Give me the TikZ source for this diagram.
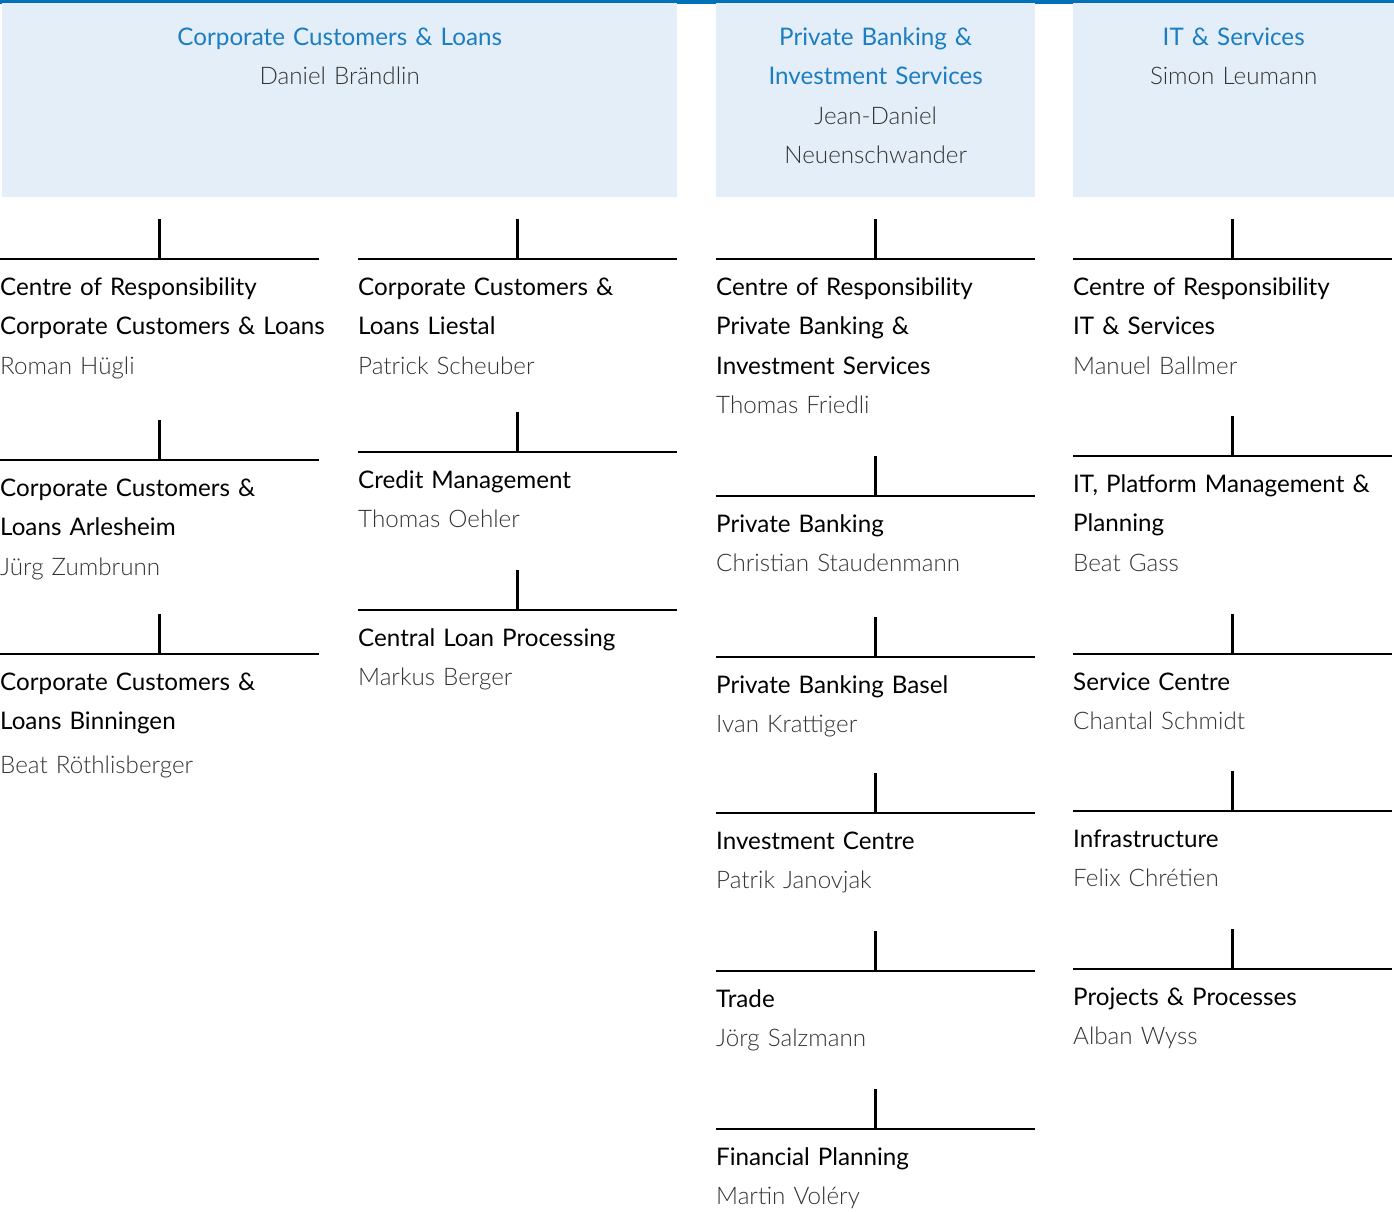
\documentclass[tikz,border=0pt]{standalone}
\usepackage{fontspec}
\setmainfont{Lato}
\newfontfamily\lightfont{Lato Light}
\definecolor{topblue}{HTML}{0070B8}
\definecolor{boxblue}{HTML}{E4EEF8}
\definecolor{headblue}{HTML}{1B7DC2}
\definecolor{namegray}{HTML}{333333}
\newcommand{\who}[1]{{\lightfont\color{namegray}#1}}
\begin{document}
\begin{tikzpicture}[
			x=1pt, y=-1pt,
			headbox/.style={fill=boxblue, inner sep=0pt, anchor=north west},
			headtext/.style={text width=300pt, align=center, font=\fontsize{24.2}{39.5}\selectfont, text=headblue, inner sep=0pt, anchor=base},
			unit/.style={anchor=base west, text width=360pt, align=left, inner sep=0pt, font=\fontsize{24.2}{39.5}\selectfont},
			bar/.style={line width=2.6pt}
		]
		\useasboundingbox (0,0) rectangle (1394,1211);
		\fill[topblue] (0,0) rectangle (1394,3.5);

		% divisions
		\node[headbox, minimum width=675pt, minimum height=194pt] (ccl) at (2,3) {};
		\node[headbox, minimum width=319pt, minimum height=194pt] (pbis) at (716,3) {};
		\node[headbox, minimum width=321pt, minimum height=194pt] (its) at (1073,3) {};
		\node[headtext, text width=400pt] (ccl head) at ([yshift=-42pt]ccl.north) {Corporate Customers \& Loans\\ \who{Daniel Brändlin}};
		\node[headtext] (pbis head) at ([yshift=-42pt]pbis.north) {Private Banking \&\\ Investment Services\\ \who{Jean-Daniel}\\ \who{Neuenschwander}};
		\node[headtext] (its head) at ([yshift=-42pt]its.north) {IT \& Services\\ \who{Simon Leumann}};

		% corporate customers & loans
		\node[unit] (ccl1) at (0,295) {Centre of Responsibility\\ Corporate Customers \& Loans\\ \who{Roman Hügli}};
		\node[unit] (ccl2) at (0,496) {Corporate Customers \&\\ Loans Arlesheim\\ \who{Jürg Zumbrunn}};
		\node[unit] (ccl3) at (0,690) {Corporate Customers \&\\ Loans Binningen\\[4pt] \who{Beat Röthlisberger}};
		\node[unit] (ccl4) at (358,295) {Corporate Customers \&\\ Loans Liestal\\ \who{Patrick Scheuber}};
		\node[unit] (ccl5) at (358,488) {Credit Management\\ \who{Thomas Oehler}};
		\node[unit] (ccl6) at (358,646) {Central Loan Processing\\ \who{Markus Berger}};

		% private banking & investment services
		\node[unit] (pbis1) at (716,295) {Centre of Responsibility\\ Private Banking \&\\ Investment Services\\ \who{Thomas Friedli}};
		\node[unit] (pbis2) at (716,532) {Private Banking\\ \who{Christian Staudenmann}};
		\node[unit] (pbis3) at (716,693) {Private Banking Basel\\ \who{Ivan Krattiger}};
		\node[unit] (pbis4) at (716,849) {Investment Centre\\ \who{Patrik Janovjak}};
		\node[unit] (pbis5) at (716,1007) {Trade\\ \who{Jörg Salzmann}};
		\node[unit] (pbis6) at (716,1165) {Financial Planning\\ \who{Martin Voléry}};

		% it & services
		\node[unit] (its1) at (1073,295) {Centre of Responsibility\\ IT \& Services\\ \who{Manuel Ballmer}};
		\node[unit] (its2) at (1073,492) {IT, Platform Management \&\\ Planning\\ \who{Beat Gass}};
		\node[unit] (its3) at (1073,690) {Service Centre\\ \who{Chantal Schmidt}};
		\node[unit] (its4) at (1073,847) {Infrastructure\\ \who{Felix Chrétien}};
		\node[unit] (its5) at (1073,1005) {Projects \& Processes\\ \who{Alban Wyss}};

		% bars above each unit
		\foreach \n in {ccl1,ccl2,ccl3,ccl4,ccl5,ccl6,pbis1,pbis2,pbis3,pbis4,pbis5,pbis6,its1,its2,its3,its4,its5} {
			\coordinate (\n bar) at ([yshift=36pt]\n.base west);
			\draw[bar] (\n bar) -- ++(319,0);
			\draw[bar] ([xshift=159.5pt]\n bar) -- ++(0,-40);
		}
	\end{tikzpicture}
\end{document}
